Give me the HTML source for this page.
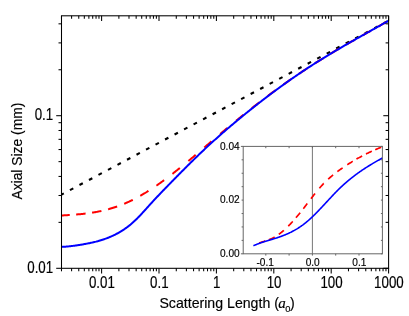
<!DOCTYPE html>
<html><head><meta charset="utf-8"><title>Axial Size vs Scattering Length</title>
<style>html,body{margin:0;padding:0;background:#fff;}body{width:409px;height:316px;overflow:hidden;position:relative;font-family:"Liberation Sans",sans-serif;}</style></head>
<body>
<svg width="409" height="316" viewBox="0 0 409 316" style="position:absolute;left:0;top:0;will-change:transform;opacity:0.999">
<rect width="409" height="316" fill="#fff"/>
<g transform="translate(0,0.4)">
<path d="M61.50,194.20 L388.60,20.30" fill="none" stroke="#000" stroke-width="2.1" stroke-dasharray="3.8 6.97" stroke-dashoffset="1.2"/>
<path d="M61.50,215.07 L62.32,215.02 L63.14,214.98 L63.96,214.93 L64.78,214.88 L65.60,214.84 L66.42,214.79 L67.24,214.74 L68.06,214.69 L68.88,214.64 L69.70,214.58 L69.74,214.58 M76.15,214.11 L76.26,214.10 L77.08,214.03 L77.90,213.96 L78.72,213.89 L79.54,213.81 L80.36,213.73 L81.18,213.65 L81.99,213.56 L82.81,213.48 L83.63,213.39 L84.45,213.29 L85.27,213.20 L85.60,213.16 M92.08,212.26 L92.65,212.17 L93.47,212.04 L94.29,211.90 L95.11,211.76 L95.93,211.61 L96.75,211.46 L97.57,211.31 L98.39,211.15 L99.21,210.98 L100.03,210.81 L100.85,210.64 L101.41,210.51 M108.08,208.87 L108.23,208.83 L109.05,208.61 L109.87,208.37 L110.69,208.13 L111.51,207.89 L112.33,207.64 L113.15,207.39 L113.97,207.13 L114.79,206.86 L115.61,206.59 L116.43,206.31 L117.15,206.06 M124.17,203.38 L124.62,203.19 L125.44,202.84 L126.26,202.49 L127.08,202.13 L127.90,201.76 L128.72,201.39 L129.54,201.01 L130.36,200.62 L131.18,200.23 L132.00,199.83 L132.80,199.43 M140.30,195.42 L141.02,195.01 L141.84,194.54 L142.66,194.06 L143.48,193.57 L144.30,193.08 L145.12,192.59 L145.94,192.08 L146.76,191.58 L147.58,191.07 L148.40,190.55 L148.44,190.52 M156.39,185.26 L156.60,185.12 L157.42,184.55 L158.24,183.98 L159.06,183.40 L159.88,182.82 L160.70,182.23 L161.52,181.64 L162.34,181.05 L163.16,180.45 L163.97,179.85 L164.13,179.74 M172.42,173.46 L172.99,173.02 L173.81,172.38 L174.63,171.73 L175.45,171.09 L176.27,170.44 L177.09,169.79 L177.91,169.14 L178.73,168.48 L179.55,167.82 L179.87,167.56 M188.39,160.58 L188.57,160.43 L189.39,159.75 L190.21,159.07 L191.03,158.38 L191.85,157.70 L192.67,157.01 L193.49,156.32 L194.31,155.63 L195.13,154.94 L195.67,154.48 M204.31,147.14 L204.96,146.58 L205.78,145.88 L206.60,145.18 L207.42,144.48 L208.24,143.78 L209.06,143.08 L209.88,142.38 L210.70,141.68 L211.52,140.98 L211.53,140.97 M220.17,133.63 L220.54,133.31 L221.36,132.62 L222.18,131.93 L223.00,131.24 L223.82,130.55 L224.64,129.86 L225.46,129.17 L226.28,128.48 L227.10,127.80 L227.44,127.51 M236.00,120.44 L236.12,120.35 L236.94,119.68 L237.76,119.01 L238.58,118.34 L239.40,117.67 L240.22,117.01 L241.04,116.35 L241.86,115.69 L242.68,115.03 L243.38,114.46 M251.81,107.77 L252.51,107.22 L253.33,106.58 L254.15,105.94 L254.97,105.30 L255.79,104.66 L256.61,104.03 L257.43,103.40 L258.25,102.77 L259.07,102.14 L259.32,101.94 M267.63,95.66 L268.09,95.32 L268.91,94.70 L269.73,94.10 L270.55,93.49 L271.37,92.88 L272.19,92.28 L273.01,91.68 L273.83,91.08 L274.65,90.48 L275.27,90.02 M283.44,84.15 L283.67,83.99 L284.49,83.41 L285.31,82.83 L286.13,82.25 L286.94,81.68 L287.76,81.10 L288.58,80.53 L289.40,79.96 L290.22,79.39 L291.04,78.82 L291.22,78.70 M299.25,73.23 L300.06,72.68 L300.88,72.13 L301.70,71.59 L302.52,71.04 L303.34,70.50 L304.16,69.95 L304.98,69.41 L305.80,68.87 L306.62,68.34 L307.17,67.98 M315.06,62.89 L315.64,62.53 L316.46,62.01 L317.28,61.49 L318.10,60.97 L318.92,60.46 L319.74,59.95 L320.56,59.44 L321.38,58.93 L322.20,58.42 L323.02,57.91 L323.11,57.85 M330.88,53.14 L331.21,52.93 L332.03,52.45 L332.85,51.96 L333.67,51.47 L334.49,50.99 L335.31,50.50 L336.13,50.02 L336.95,49.54 L337.77,49.06 L338.59,48.58 L339.06,48.31 M346.71,43.89 L346.79,43.84 L347.61,43.38 L348.43,42.91 L349.25,42.44 L350.07,41.98 L350.89,41.51 L351.71,41.05 L352.53,40.58 L353.35,40.12 L354.17,39.66 L354.98,39.20 M362.57,34.94 L363.19,34.59 L364.01,34.13 L364.83,33.68 L365.65,33.22 L366.47,32.76 L367.29,32.30 L368.11,31.84 L368.92,31.39 L369.74,30.93 L370.56,30.47 L370.87,30.30 M378.46,26.05 L378.76,25.88 L379.58,25.42 L380.40,24.95 L381.22,24.49 L382.04,24.03 L382.86,23.57 L383.68,23.10 L384.50,22.64 L385.32,22.17 L386.14,21.71 L386.73,21.37" fill="none" stroke="#f00" stroke-width="2"/>
<path d="M61.50,246.50 L62.32,246.46 L63.14,246.41 L63.96,246.36 L64.78,246.30 L65.60,246.24 L66.42,246.17 L67.24,246.10 L68.06,246.02 L68.88,245.95 L69.70,245.86 L70.52,245.77 L71.34,245.68 L72.16,245.58 L72.98,245.48 L73.80,245.38 L74.62,245.27 L75.44,245.16 L76.26,245.04 L77.08,244.92 L77.90,244.80 L78.72,244.68 L79.54,244.55 L80.36,244.41 L81.18,244.28 L81.99,244.14 L82.81,244.00 L83.63,243.85 L84.45,243.70 L85.27,243.55 L86.09,243.40 L86.91,243.24 L87.73,243.08 L88.55,242.92 L89.37,242.75 L90.19,242.58 L91.01,242.40 L91.83,242.22 L92.65,242.04 L93.47,241.85 L94.29,241.65 L95.11,241.45 L95.93,241.25 L96.75,241.03 L97.57,240.82 L98.39,240.59 L99.21,240.36 L100.03,240.12 L100.85,239.87 L101.67,239.62 L102.49,239.36 L103.31,239.09 L104.13,238.82 L104.95,238.53 L105.77,238.24 L106.59,237.94 L107.41,237.63 L108.23,237.31 L109.05,236.98 L109.87,236.64 L110.69,236.29 L111.51,235.93 L112.33,235.56 L113.15,235.18 L113.97,234.79 L114.79,234.38 L115.61,233.97 L116.43,233.54 L117.25,233.11 L118.07,232.66 L118.89,232.20 L119.71,231.72 L120.53,231.24 L121.35,230.74 L122.17,230.22 L122.98,229.70 L123.80,229.16 L124.62,228.60 L125.44,228.03 L126.26,227.45 L127.08,226.85 L127.90,226.23 L128.72,225.60 L129.54,224.95 L130.36,224.29 L131.18,223.60 L132.00,222.90 L132.82,222.19 L133.64,221.45 L134.46,220.70 L135.28,219.92 L136.10,219.13 L136.92,218.32 L137.74,217.50 L138.56,216.66 L139.38,215.81 L140.20,214.94 L141.02,214.07 L141.84,213.18 L142.66,212.29 L143.48,211.39 L144.30,210.49 L145.12,209.58 L145.94,208.67 L146.76,207.75 L147.58,206.84 L148.40,205.93 L149.22,205.02 L150.04,204.11 L150.86,203.21 L151.68,202.31 L152.50,201.42 L153.32,200.53 L154.14,199.65 L154.96,198.77 L155.78,197.90 L156.60,197.03 L157.42,196.16 L158.24,195.29 L159.06,194.43 L159.88,193.57 L160.70,192.72 L161.52,191.87 L162.34,191.01 L163.16,190.17 L163.97,189.32 L164.79,188.47 L165.61,187.63 L166.43,186.79 L167.25,185.95 L168.07,185.11 L168.89,184.27 L169.71,183.43 L170.53,182.59 L171.35,181.75 L172.17,180.91 L172.99,180.08 L173.81,179.24 L174.63,178.41 L175.45,177.57 L176.27,176.74 L177.09,175.90 L177.91,175.07 L178.73,174.24 L179.55,173.41 L180.37,172.58 L181.19,171.75 L182.01,170.92 L182.83,170.09 L183.65,169.27 L184.47,168.45 L185.29,167.62 L186.11,166.80 L186.93,165.98 L187.75,165.17 L188.57,164.35 L189.39,163.54 L190.21,162.73 L191.03,161.92 L191.85,161.11 L192.67,160.30 L193.49,159.50 L194.31,158.70 L195.13,157.90 L195.95,157.10 L196.77,156.30 L197.59,155.51 L198.41,154.72 L199.23,153.94 L200.05,153.15 L200.87,152.37 L201.69,151.59 L202.51,150.81 L203.33,150.04 L204.15,149.27 L204.96,148.50 L205.78,147.73 L206.60,146.97 L207.42,146.21 L208.24,145.45 L209.06,144.70 L209.88,143.94 L210.70,143.19 L211.52,142.44 L212.34,141.70 L213.16,140.95 L213.98,140.21 L214.80,139.47 L215.62,138.74 L216.44,138.00 L217.26,137.27 L218.08,136.54 L218.90,135.81 L219.72,135.09 L220.54,134.37 L221.36,133.64 L222.18,132.93 L223.00,132.21 L223.82,131.50 L224.64,130.78 L225.46,130.07 L226.28,129.37 L227.10,128.66 L227.92,127.96 L228.74,127.25 L229.56,126.56 L230.38,125.86 L231.20,125.16 L232.02,124.47 L232.84,123.78 L233.66,123.09 L234.48,122.40 L235.30,121.71 L236.12,121.03 L236.94,120.35 L237.76,119.66 L238.58,118.99 L239.40,118.31 L240.22,117.63 L241.04,116.96 L241.86,116.29 L242.68,115.62 L243.50,114.95 L244.32,114.28 L245.14,113.62 L245.95,112.95 L246.77,112.29 L247.59,111.63 L248.41,110.97 L249.23,110.31 L250.05,109.66 L250.87,109.00 L251.69,108.35 L252.51,107.70 L253.33,107.05 L254.15,106.40 L254.97,105.75 L255.79,105.11 L256.61,104.47 L257.43,103.82 L258.25,103.18 L259.07,102.54 L259.89,101.91 L260.71,101.27 L261.53,100.64 L262.35,100.00 L263.17,99.37 L263.99,98.74 L264.81,98.11 L265.63,97.49 L266.45,96.86 L267.27,96.24 L268.09,95.62 L268.91,95.00 L269.73,94.38 L270.55,93.76 L271.37,93.15 L272.19,92.53 L273.01,91.92 L273.83,91.31 L274.65,90.70 L275.47,90.10 L276.29,89.49 L277.11,88.89 L277.93,88.29 L278.75,87.69 L279.57,87.09 L280.39,86.49 L281.21,85.90 L282.03,85.30 L282.85,84.71 L283.67,84.12 L284.49,83.53 L285.31,82.95 L286.13,82.36 L286.94,81.78 L287.76,81.20 L288.58,80.62 L289.40,80.04 L290.22,79.47 L291.04,78.89 L291.86,78.32 L292.68,77.75 L293.50,77.18 L294.32,76.62 L295.14,76.05 L295.96,75.49 L296.78,74.93 L297.60,74.37 L298.42,73.81 L299.24,73.25 L300.06,72.70 L300.88,72.15 L301.70,71.60 L302.52,71.05 L303.34,70.50 L304.16,69.96 L304.98,69.42 L305.80,68.88 L306.62,68.34 L307.44,67.80 L308.26,67.26 L309.08,66.73 L309.90,66.20 L310.72,65.67 L311.54,65.14 L312.36,64.62 L313.18,64.09 L314.00,63.57 L314.82,63.05 L315.64,62.53 L316.46,62.02 L317.28,61.50 L318.10,60.99 L318.92,60.48 L319.74,59.97 L320.56,59.46 L321.38,58.95 L322.20,58.45 L323.02,57.95 L323.84,57.44 L324.66,56.94 L325.48,56.44 L326.30,55.95 L327.12,55.45 L327.93,54.96 L328.75,54.46 L329.57,53.97 L330.39,53.48 L331.21,52.99 L332.03,52.50 L332.85,52.02 L333.67,51.53 L334.49,51.04 L335.31,50.56 L336.13,50.08 L336.95,49.60 L337.77,49.12 L338.59,48.64 L339.41,48.16 L340.23,47.68 L341.05,47.21 L341.87,46.73 L342.69,46.26 L343.51,45.78 L344.33,45.31 L345.15,44.84 L345.97,44.37 L346.79,43.90 L347.61,43.43 L348.43,42.96 L349.25,42.49 L350.07,42.02 L350.89,41.55 L351.71,41.09 L352.53,40.62 L353.35,40.16 L354.17,39.69 L354.99,39.23 L355.81,38.76 L356.63,38.30 L357.45,37.84 L358.27,37.38 L359.09,36.91 L359.91,36.45 L360.73,35.99 L361.55,35.53 L362.37,35.07 L363.19,34.61 L364.01,34.15 L364.83,33.69 L365.65,33.23 L366.47,32.77 L367.29,32.31 L368.11,31.85 L368.92,31.39 L369.74,30.93 L370.56,30.47 L371.38,30.01 L372.20,29.55 L373.02,29.09 L373.84,28.63 L374.66,28.17 L375.48,27.71 L376.30,27.25 L377.12,26.79 L377.94,26.33 L378.76,25.87 L379.58,25.41 L380.40,24.94 L381.22,24.48 L382.04,24.02 L382.86,23.56 L383.68,23.09 L384.50,22.63 L385.32,22.17 L386.14,21.70 L386.96,21.24 L387.78,20.77 L388.60,20.30" fill="none" stroke="#00f" stroke-width="2"/>
</g>
<g stroke="#000" stroke-width="1.05" fill="none">
<rect x="61.5" y="15.8" width="327.10" height="252.50"/>
<path d="M61.48,268.3 v3.0"/>
<path d="M61.48,15.8 v3.0"/>
<path d="M71.59,268.3 v3.0"/>
<path d="M71.59,15.8 v3.0"/>
<path d="M78.76,268.3 v3.0"/>
<path d="M78.76,15.8 v3.0"/>
<path d="M84.32,268.3 v3.0"/>
<path d="M84.32,15.8 v3.0"/>
<path d="M88.87,268.3 v3.0"/>
<path d="M88.87,15.8 v3.0"/>
<path d="M92.71,268.3 v3.0"/>
<path d="M92.71,15.8 v3.0"/>
<path d="M96.04,268.3 v3.0"/>
<path d="M96.04,15.8 v3.0"/>
<path d="M98.97,268.3 v3.0"/>
<path d="M98.97,15.8 v3.0"/>
<path d="M101.60,268.3 v5.2"/>
<path d="M101.60,15.8 v5.2"/>
<path d="M118.88,268.3 v3.0"/>
<path d="M118.88,15.8 v3.0"/>
<path d="M128.99,268.3 v3.0"/>
<path d="M128.99,15.8 v3.0"/>
<path d="M136.16,268.3 v3.0"/>
<path d="M136.16,15.8 v3.0"/>
<path d="M141.72,268.3 v3.0"/>
<path d="M141.72,15.8 v3.0"/>
<path d="M146.27,268.3 v3.0"/>
<path d="M146.27,15.8 v3.0"/>
<path d="M150.11,268.3 v3.0"/>
<path d="M150.11,15.8 v3.0"/>
<path d="M153.44,268.3 v3.0"/>
<path d="M153.44,15.8 v3.0"/>
<path d="M156.37,268.3 v3.0"/>
<path d="M156.37,15.8 v3.0"/>
<path d="M159.00,268.3 v5.2"/>
<path d="M159.00,15.8 v5.2"/>
<path d="M176.28,268.3 v3.0"/>
<path d="M176.28,15.8 v3.0"/>
<path d="M186.39,268.3 v3.0"/>
<path d="M186.39,15.8 v3.0"/>
<path d="M193.56,268.3 v3.0"/>
<path d="M193.56,15.8 v3.0"/>
<path d="M199.12,268.3 v3.0"/>
<path d="M199.12,15.8 v3.0"/>
<path d="M203.67,268.3 v3.0"/>
<path d="M203.67,15.8 v3.0"/>
<path d="M207.51,268.3 v3.0"/>
<path d="M207.51,15.8 v3.0"/>
<path d="M210.84,268.3 v3.0"/>
<path d="M210.84,15.8 v3.0"/>
<path d="M213.77,268.3 v3.0"/>
<path d="M213.77,15.8 v3.0"/>
<path d="M216.40,268.3 v5.2"/>
<path d="M216.40,15.8 v5.2"/>
<path d="M233.68,268.3 v3.0"/>
<path d="M233.68,15.8 v3.0"/>
<path d="M243.79,268.3 v3.0"/>
<path d="M243.79,15.8 v3.0"/>
<path d="M250.96,268.3 v3.0"/>
<path d="M250.96,15.8 v3.0"/>
<path d="M256.52,268.3 v3.0"/>
<path d="M256.52,15.8 v3.0"/>
<path d="M261.07,268.3 v3.0"/>
<path d="M261.07,15.8 v3.0"/>
<path d="M264.91,268.3 v3.0"/>
<path d="M264.91,15.8 v3.0"/>
<path d="M268.24,268.3 v3.0"/>
<path d="M268.24,15.8 v3.0"/>
<path d="M271.17,268.3 v3.0"/>
<path d="M271.17,15.8 v3.0"/>
<path d="M273.80,268.3 v5.2"/>
<path d="M273.80,15.8 v5.2"/>
<path d="M291.08,268.3 v3.0"/>
<path d="M291.08,15.8 v3.0"/>
<path d="M301.19,268.3 v3.0"/>
<path d="M301.19,15.8 v3.0"/>
<path d="M308.36,268.3 v3.0"/>
<path d="M308.36,15.8 v3.0"/>
<path d="M313.92,268.3 v3.0"/>
<path d="M313.92,15.8 v3.0"/>
<path d="M318.47,268.3 v3.0"/>
<path d="M318.47,15.8 v3.0"/>
<path d="M322.31,268.3 v3.0"/>
<path d="M322.31,15.8 v3.0"/>
<path d="M325.64,268.3 v3.0"/>
<path d="M325.64,15.8 v3.0"/>
<path d="M328.57,268.3 v3.0"/>
<path d="M328.57,15.8 v3.0"/>
<path d="M331.20,268.3 v5.2"/>
<path d="M331.20,15.8 v5.2"/>
<path d="M348.48,268.3 v3.0"/>
<path d="M348.48,15.8 v3.0"/>
<path d="M358.59,268.3 v3.0"/>
<path d="M358.59,15.8 v3.0"/>
<path d="M365.76,268.3 v3.0"/>
<path d="M365.76,15.8 v3.0"/>
<path d="M371.32,268.3 v3.0"/>
<path d="M371.32,15.8 v3.0"/>
<path d="M375.87,268.3 v3.0"/>
<path d="M375.87,15.8 v3.0"/>
<path d="M379.71,268.3 v3.0"/>
<path d="M379.71,15.8 v3.0"/>
<path d="M383.04,268.3 v3.0"/>
<path d="M383.04,15.8 v3.0"/>
<path d="M385.97,268.3 v3.0"/>
<path d="M385.97,15.8 v3.0"/>
<path d="M388.60,268.3 v5.2"/>
<path d="M388.60,15.8 v5.2"/>
<path d="M61.5,268.30 h-5.3"/>
<path d="M388.6,268.30 h-5.3"/>
<path d="M61.5,222.36 h-3.0"/>
<path d="M388.6,222.36 h-3.0"/>
<path d="M61.5,195.49 h-3.0"/>
<path d="M388.6,195.49 h-3.0"/>
<path d="M61.5,176.43 h-3.0"/>
<path d="M388.6,176.43 h-3.0"/>
<path d="M61.5,161.64 h-3.0"/>
<path d="M388.6,161.64 h-3.0"/>
<path d="M61.5,149.55 h-3.0"/>
<path d="M388.6,149.55 h-3.0"/>
<path d="M61.5,139.34 h-3.0"/>
<path d="M388.6,139.34 h-3.0"/>
<path d="M61.5,130.49 h-3.0"/>
<path d="M388.6,130.49 h-3.0"/>
<path d="M61.5,122.68 h-3.0"/>
<path d="M388.6,122.68 h-3.0"/>
<path d="M61.5,115.70 h-5.3"/>
<path d="M388.6,115.70 h-5.3"/>
<path d="M61.5,69.76 h-3.0"/>
<path d="M388.6,69.76 h-3.0"/>
<path d="M61.5,42.89 h-3.0"/>
<path d="M388.6,42.89 h-3.0"/>
<path d="M61.5,23.83 h-3.0"/>
<path d="M388.6,23.83 h-3.0"/>
</g>
<rect x="243.2" y="146.4" width="139.20" height="107.40" fill="#fff" stroke="none"/>
<path d="M312.40,146.4 V253.8" stroke="#666" stroke-width="0.9"/>
<g transform="translate(0,0.1)">
<path d="M259.13,242.91 L259.44,242.79 L259.87,242.63 L260.30,242.48 L260.73,242.33 L261.17,242.18 L261.60,242.04 L262.03,241.90 L262.46,241.76 L262.89,241.62 L263.32,241.49 L263.75,241.35 L264.19,241.22 L264.62,241.08 L265.05,240.95 L265.30,240.87 M268.80,239.69 L268.93,239.64 L269.36,239.48 L269.79,239.31 L270.23,239.14 L270.66,238.96 L271.09,238.77 L271.52,238.58 L271.95,238.38 L272.38,238.17 L272.81,237.96 L273.25,237.74 L273.68,237.51 L274.11,237.27 L274.54,237.03 L274.68,236.95 M278.82,234.25 L278.85,234.23 L279.29,233.91 L279.72,233.59 L280.15,233.26 L280.58,232.93 L281.01,232.59 L281.44,232.24 L281.87,231.89 L282.31,231.53 L282.74,231.17 L283.17,230.80 L283.60,230.43 L283.88,230.18 M288.24,226.07 L288.35,225.96 L288.78,225.52 L289.21,225.08 L289.64,224.64 L290.07,224.19 L290.50,223.74 L290.94,223.28 L291.37,222.82 L291.80,222.35 L292.23,221.88 L292.66,221.40 L292.71,221.35 M296.01,217.59 L296.11,217.47 L296.54,216.96 L296.98,216.45 L297.41,215.93 L297.84,215.42 L298.27,214.90 L298.70,214.37 L299.13,213.85 L299.56,213.32 L300.00,212.78 L300.16,212.58 M303.31,208.60 L303.45,208.43 L303.88,207.87 L304.31,207.32 L304.74,206.76 L305.17,206.20 L305.60,205.64 L306.04,205.08 L306.47,204.51 L306.90,203.95 L307.28,203.45 M311.01,198.57 L311.21,198.31 L311.64,197.75 L312.08,197.19 L312.51,196.64 L312.94,196.08 L313.37,195.53 L313.80,194.98 L314.23,194.43 L314.66,193.89 L315.01,193.45 M319.35,188.20 L319.41,188.13 L319.84,187.63 L320.27,187.14 L320.70,186.65 L321.14,186.17 L321.57,185.69 L322.00,185.22 L322.43,184.76 L322.86,184.30 L323.29,183.85 L323.72,183.40 L323.73,183.40 M328.17,179.09 L328.47,178.81 L328.90,178.42 L329.33,178.04 L329.76,177.66 L330.20,177.28 L330.63,176.91 L331.06,176.54 L331.49,176.18 L331.92,175.81 L332.35,175.46 L332.78,175.10 L333.09,174.85 M337.38,171.52 L337.53,171.41 L337.96,171.09 L338.39,170.77 L338.82,170.45 L339.26,170.14 L339.69,169.83 L340.12,169.52 L340.55,169.21 L340.98,168.91 L341.41,168.60 L341.84,168.30 L342.28,168.00 L342.66,167.73 M347.26,164.64 L347.45,164.52 L347.88,164.24 L348.32,163.96 L348.75,163.68 L349.18,163.41 L349.61,163.13 L350.04,162.86 L350.47,162.59 L350.91,162.33 L351.34,162.06 L351.77,161.79 L352.20,161.53 L352.63,161.27 L352.77,161.19 M356.47,159.01 L356.51,158.98 L356.95,158.74 L357.38,158.49 L357.81,158.25 L358.24,158.01 L358.67,157.77 L359.10,157.53 L359.53,157.29 L359.97,157.05 L360.40,156.82 L360.83,156.59 L361.26,156.35 L361.69,156.12 L362.12,155.90 L362.16,155.88 M365.98,153.91 L366.01,153.90 L366.44,153.69 L366.87,153.47 L367.30,153.26 L367.73,153.05 L368.16,152.84 L368.59,152.64 L369.03,152.43 L369.46,152.22 L369.89,152.02 L370.32,151.82 L370.75,151.62 L371.18,151.42 L371.61,151.22 L371.84,151.11 M375.21,149.62 L375.50,149.49 L375.93,149.31 L376.36,149.13 L376.79,148.94 L377.22,148.76 L377.65,148.58 L378.09,148.40 L378.52,148.22 L378.95,148.05 L379.38,147.87 L379.81,147.70 L380.24,147.53 L380.67,147.35 L381.11,147.18 L381.21,147.14" fill="none" stroke="#f00" stroke-width="1.7"/>
<path d="M253.40,245.66 L253.83,245.47 L254.26,245.27 L254.69,245.09 L255.13,244.90 L255.56,244.72 L255.99,244.54 L256.42,244.37 L256.85,244.19 L257.28,244.02 L257.71,243.86 L258.15,243.69 L258.58,243.53 L259.01,243.37 L259.44,243.21 L259.87,243.06 L260.30,242.91 L260.73,242.76 L261.17,242.61 L261.60,242.46 L262.03,242.32 L262.46,242.17 L262.89,242.03 L263.32,241.89 L263.75,241.75 L264.19,241.62 L264.62,241.48 L265.05,241.35 L265.48,241.21 L265.91,241.08 L266.34,240.95 L266.77,240.82 L267.21,240.69 L267.64,240.56 L268.07,240.43 L268.50,240.30 L268.93,240.17 L269.36,240.04 L269.79,239.91 L270.23,239.79 L270.66,239.66 L271.09,239.53 L271.52,239.40 L271.95,239.27 L272.38,239.14 L272.81,239.01 L273.25,238.88 L273.68,238.75 L274.11,238.62 L274.54,238.48 L274.97,238.35 L275.40,238.21 L275.83,238.08 L276.27,237.94 L276.70,237.80 L277.13,237.66 L277.56,237.52 L277.99,237.38 L278.42,237.23 L278.85,237.08 L279.29,236.93 L279.72,236.78 L280.15,236.63 L280.58,236.48 L281.01,236.32 L281.44,236.16 L281.87,236.00 L282.31,235.84 L282.74,235.67 L283.17,235.51 L283.60,235.34 L284.03,235.17 L284.46,234.99 L284.89,234.82 L285.33,234.64 L285.76,234.46 L286.19,234.27 L286.62,234.09 L287.05,233.90 L287.48,233.71 L287.92,233.51 L288.35,233.32 L288.78,233.12 L289.21,232.92 L289.64,232.71 L290.07,232.50 L290.50,232.29 L290.94,232.08 L291.37,231.86 L291.80,231.64 L292.23,231.42 L292.66,231.19 L293.09,230.96 L293.52,230.73 L293.96,230.49 L294.39,230.25 L294.82,230.01 L295.25,229.76 L295.68,229.51 L296.11,229.26 L296.54,229.00 L296.98,228.74 L297.41,228.47 L297.84,228.21 L298.27,227.93 L298.70,227.66 L299.13,227.38 L299.56,227.09 L300.00,226.81 L300.43,226.51 L300.86,226.22 L301.29,225.92 L301.72,225.61 L302.15,225.31 L302.58,224.99 L303.02,224.68 L303.45,224.35 L303.88,224.03 L304.31,223.70 L304.74,223.36 L305.17,223.02 L305.60,222.68 L306.04,222.33 L306.47,221.98 L306.90,221.62 L307.33,221.26 L307.76,220.89 L308.19,220.52 L308.62,220.14 L309.06,219.76 L309.49,219.38 L309.92,218.99 L310.35,218.60 L310.78,218.20 L311.21,217.80 L311.64,217.40 L312.08,216.99 L312.51,216.58 L312.94,216.16 L313.37,215.75 L313.80,215.33 L314.23,214.90 L314.66,214.47 L315.10,214.05 L315.53,213.61 L315.96,213.18 L316.39,212.74 L316.82,212.30 L317.25,211.86 L317.68,211.42 L318.12,210.97 L318.55,210.52 L318.98,210.07 L319.41,209.62 L319.84,209.16 L320.27,208.71 L320.70,208.25 L321.14,207.79 L321.57,207.33 L322.00,206.87 L322.43,206.41 L322.86,205.95 L323.29,205.49 L323.72,205.02 L324.16,204.56 L324.59,204.09 L325.02,203.62 L325.45,203.16 L325.88,202.69 L326.31,202.23 L326.74,201.76 L327.18,201.29 L327.61,200.83 L328.04,200.36 L328.47,199.89 L328.90,199.43 L329.33,198.96 L329.76,198.50 L330.20,198.04 L330.63,197.57 L331.06,197.11 L331.49,196.65 L331.92,196.19 L332.35,195.73 L332.78,195.28 L333.22,194.82 L333.65,194.37 L334.08,193.92 L334.51,193.47 L334.94,193.02 L335.37,192.57 L335.80,192.13 L336.24,191.69 L336.67,191.25 L337.10,190.81 L337.53,190.38 L337.96,189.95 L338.39,189.52 L338.82,189.09 L339.26,188.67 L339.69,188.25 L340.12,187.84 L340.55,187.42 L340.98,187.01 L341.41,186.60 L341.84,186.20 L342.28,185.80 L342.71,185.40 L343.14,185.00 L343.57,184.61 L344.00,184.22 L344.43,183.83 L344.86,183.45 L345.30,183.07 L345.73,182.69 L346.16,182.32 L346.59,181.94 L347.02,181.57 L347.45,181.20 L347.88,180.84 L348.32,180.48 L348.75,180.12 L349.18,179.76 L349.61,179.41 L350.04,179.05 L350.47,178.70 L350.91,178.36 L351.34,178.01 L351.77,177.67 L352.20,177.33 L352.63,176.99 L353.06,176.66 L353.49,176.32 L353.93,175.99 L354.36,175.66 L354.79,175.34 L355.22,175.01 L355.65,174.69 L356.08,174.37 L356.51,174.06 L356.95,173.74 L357.38,173.43 L357.81,173.12 L358.24,172.81 L358.67,172.50 L359.10,172.19 L359.53,171.89 L359.97,171.59 L360.40,171.29 L360.83,170.99 L361.26,170.70 L361.69,170.40 L362.12,170.11 L362.55,169.82 L362.99,169.53 L363.42,169.25 L363.85,168.96 L364.28,168.68 L364.71,168.39 L365.14,168.11 L365.57,167.84 L366.01,167.56 L366.44,167.28 L366.87,167.01 L367.30,166.74 L367.73,166.46 L368.16,166.19 L368.59,165.93 L369.03,165.66 L369.46,165.39 L369.89,165.13 L370.32,164.87 L370.75,164.60 L371.18,164.34 L371.61,164.08 L372.05,163.83 L372.48,163.57 L372.91,163.31 L373.34,163.06 L373.77,162.80 L374.20,162.55 L374.63,162.30 L375.07,162.05 L375.50,161.80 L375.93,161.55 L376.36,161.30 L376.79,161.06 L377.22,160.81 L377.65,160.57 L378.09,160.32 L378.52,160.08 L378.95,159.84 L379.38,159.59 L379.81,159.35 L380.24,159.11 L380.67,158.87 L381.11,158.63 L381.54,158.39 L381.97,158.16 L382.40,157.92" fill="none" stroke="#00f" stroke-width="1.6"/>
</g>
<g stroke="#666" stroke-width="1" fill="none">
<rect x="243.2" y="146.4" width="139.20" height="107.40"/>
<path d="M265.80,253.8 v1.8"/>
<path d="M265.80,146.4 v1.8"/>
<path d="M289.10,253.8 v1.8"/>
<path d="M289.10,146.4 v1.8"/>
<path d="M312.40,253.8 v1.8"/>
<path d="M312.40,146.4 v1.8"/>
<path d="M335.70,253.8 v1.8"/>
<path d="M335.70,146.4 v1.8"/>
<path d="M359.00,253.8 v1.8"/>
<path d="M359.00,146.4 v1.8"/>
<path d="M243.2,253.80 h-2.3"/>
<path d="M382.4,253.80 h-1.5"/>
<path d="M243.2,240.38 h-1.6"/>
<path d="M382.4,240.38 h-1.5"/>
<path d="M243.2,226.95 h-1.6"/>
<path d="M382.4,226.95 h-1.5"/>
<path d="M243.2,213.53 h-1.6"/>
<path d="M382.4,213.53 h-1.5"/>
<path d="M243.2,200.10 h-1.6"/>
<path d="M382.4,200.10 h-1.5"/>
<path d="M243.2,186.68 h-1.6"/>
<path d="M382.4,186.68 h-1.5"/>
<path d="M243.2,173.25 h-1.6"/>
<path d="M382.4,173.25 h-1.5"/>
<path d="M243.2,159.82 h-1.6"/>
<path d="M382.4,159.82 h-1.5"/>
<path d="M243.2,146.40 h-2.3"/>
<path d="M382.4,146.40 h-1.5"/>
</g>
<g font-family="Liberation Sans, sans-serif" fill="#000" stroke="#000" stroke-width="0.15">
<text transform="translate(101.90,287.50) scale(1,1.17)" font-size="13.33" text-anchor="middle">0.01</text>
<text transform="translate(159.30,287.50) scale(1,1.17)" font-size="13.33" text-anchor="middle">0.1</text>
<text transform="translate(216.70,287.50) scale(1,1.17)" font-size="13.33" text-anchor="middle">1</text>
<text transform="translate(274.10,287.50) scale(1,1.17)" font-size="13.33" text-anchor="middle">10</text>
<text transform="translate(331.50,287.50) scale(1,1.17)" font-size="13.33" text-anchor="middle">100</text>
<text transform="translate(388.90,287.50) scale(1,1.17)" font-size="13.33" text-anchor="middle">1000</text>
<text transform="translate(53.20,120.00) scale(1,1.17)" font-size="13.33" text-anchor="end">0.1</text>
<text transform="translate(53.20,272.60) scale(1,1.17)" font-size="13.33" text-anchor="end">0.01</text>
<text transform="translate(159.40,307.50) scale(1,1.03)" font-size="14.15" text-anchor="start">Scattering Length (</text>
<text transform="translate(278.30,307.50) scale(1,1.0)" font-size="15" text-anchor="start" font-family="Liberation Serif, serif" font-style="italic">a</text>
<text transform="translate(285.20,311.90) scale(1,1.0)" font-size="9.3" text-anchor="start">0</text>
<text transform="translate(290.10,307.50) scale(1,1.03)" font-size="14.15" text-anchor="start">)</text>
<text transform="translate(22,199.6) rotate(-90)" font-size="13.85">Axial Size (mm)</text>
<text transform="translate(239.70,149.70) scale(1,1.12)" font-size="10.15" text-anchor="end">0.04</text>
<text transform="translate(239.70,203.40) scale(1,1.12)" font-size="10.15" text-anchor="end">0.02</text>
<text transform="translate(239.70,257.10) scale(1,1.12)" font-size="10.15" text-anchor="end">0.00</text>
<text transform="translate(265.20,265.60) scale(1,1.12)" font-size="10.15" text-anchor="middle">-0.1</text>
<text transform="translate(312.70,265.60) scale(1,1.12)" font-size="10.15" text-anchor="middle">0.0</text>
<text transform="translate(359.30,265.60) scale(1,1.12)" font-size="10.15" text-anchor="middle">0.1</text>
</g>
</svg>
</body></html>
